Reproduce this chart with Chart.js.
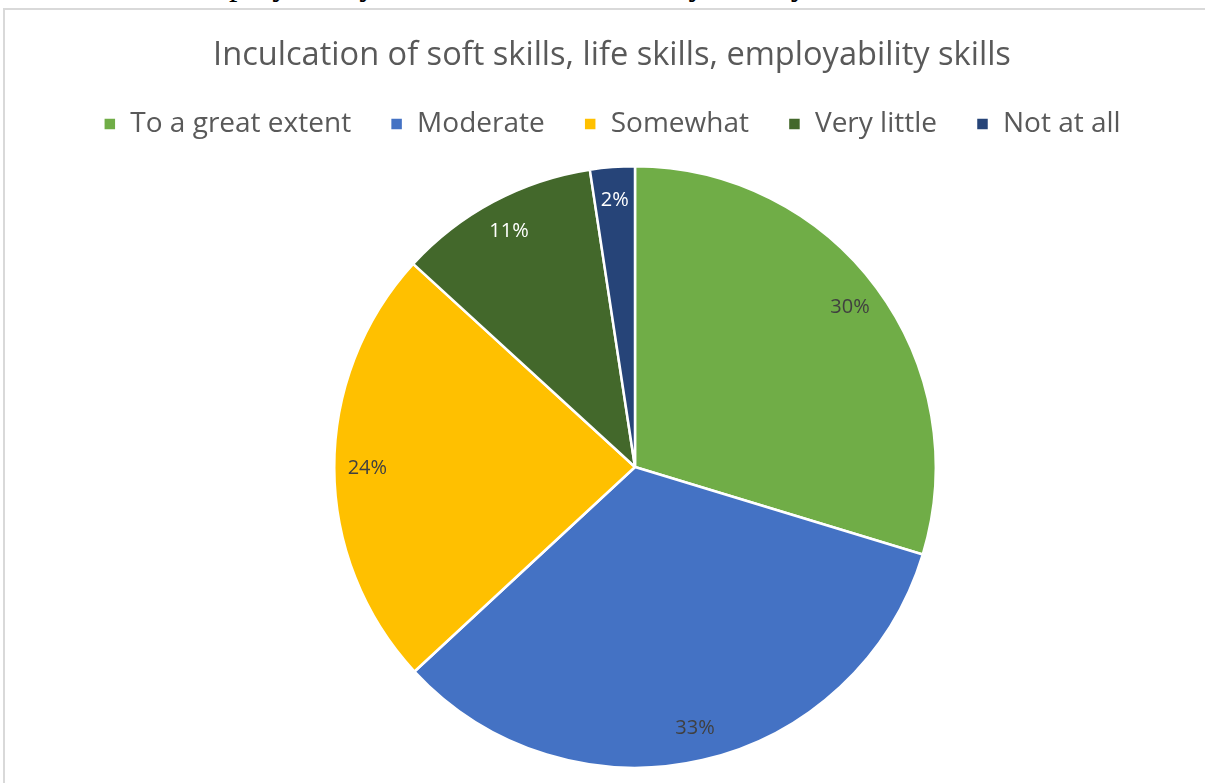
<!DOCTYPE html>
<html>
<head>
<meta charset="utf-8">
<script src="https://cdn.jsdelivr.net/npm/chart.js@4.4.1/dist/chart.umd.min.js"></script>
<style>
  html, body { margin: 0; padding: 0; background: #fff; overflow: hidden; }
  #caption {
    position: absolute; left: 0; top: -33px; width: 1222px;
    text-align: center; white-space: nowrap; word-spacing: 20px;
    font: 34px/34px "Liberation Serif", serif; color: #000;
  }
  #frame {
    position: absolute; left: 3px; top: 8px; width: 1240px; height: 800px;
    border-top: 2px solid #d9d9d9; border-left: 2px solid #d9d9d9;
  }
  #wrap { position: absolute; left: 0; top: 0; width: 1205px; height: 783px; }
</style>
</head>
<body>
<div id="caption">and employability of the students by study of the curriculum</div>
<div id="frame"></div>
<div id="wrap"><canvas id="chart"></canvas></div>
<script>
const chartTitle = "Inculcation of soft skills, life skills, employability skills";
const categories = ["To a great extent", "Moderate", "Somewhat", "Very little", "Not at all"];
const shares = [29.7, 33.4, 23.7, 10.8, 2.4];
const sliceColors = ["#70AD47", "#4472C4", "#FFC000", "#43682B", "#264478"];
const labelColors = ["#404040", "#404040", "#404040", "#ffffff", "#ffffff"];

// pie sits a bit right of the title/legend, like the Excel plot area
const placePie = {
  id: "placePie",
  afterLayout (chart) {
    const r = 302;
    const a = chart.chartArea;
    a.left = 635 - r; a.right = 635 + r;
    a.top = 467 - r; a.bottom = 467 + r;
    a.width = 2 * r; a.height = 2 * r;
  }
};

// percentage labels inside the slices
const sliceLabels = {
  id: "sliceLabels",
  afterDatasetsDraw (chart) {
    const ctx = chart.ctx;
    const meta = chart.getDatasetMeta(0);
    const total = shares.reduce((a, b) => a + b, 0);
    ctx.save();
    ctx.font = "20px 'Open Sans'";
    ctx.textAlign = "center";
    ctx.textBaseline = "middle";
    meta.data.forEach((arc, i) => {
      const mid = (arc.startAngle + arc.endAngle) / 2;
      const d = arc.outerRadius * 0.89;
      ctx.fillStyle = labelColors[i];
      ctx.fillText(Math.round(shares[i] / total * 100) + "%", arc.x + Math.cos(mid) * d, arc.y + Math.sin(mid) * d);
    });
    ctx.restore();
  }
};

new Chart(document.getElementById("chart"), {
  type: "pie",
  data: {
    labels: categories,
    datasets: [{
      data: shares,
      backgroundColor: sliceColors,
      borderColor: "#ffffff",
      borderWidth: 2.5,
      clip: false
    }]
  },
  options: {
    responsive: true,
    maintainAspectRatio: false,
    animation: false,
    layout: { padding: { left: 19, right: 0, top: 0, bottom: 0 } },
    plugins: {
      title: {
        display: true,
        text: chartTitle,
        color: "#595959",
        font: { family: "Open Sans", size: 32.6, weight: "normal" },
        padding: { top: 36, bottom: -4 }
      },
      legend: {
        position: "top",
        labels: {
          color: "#595959",
          font: { family: "Open Sans", size: 28 },
          boxWidth: 13,
          boxHeight: 13,
          padding: 39
        }
      },
      tooltip: { enabled: false }
    }
  },
  plugins: [placePie, sliceLabels]
});
</script>
</body>
</html>
